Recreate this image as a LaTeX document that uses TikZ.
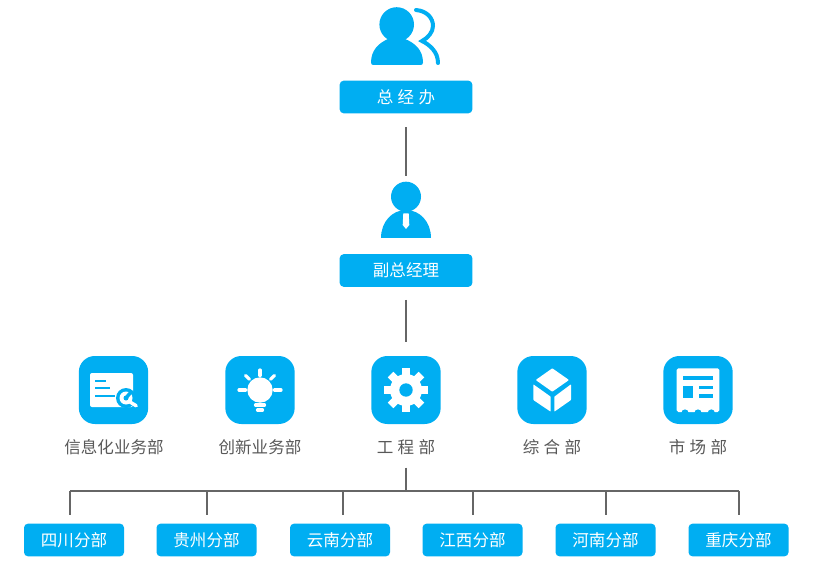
\documentclass[tikz,border=0pt]{standalone}
\usepackage{fontspec}
\setmainfont{Noto Sans CJK SC}
\definecolor{brand}{HTML}{00AEF2}
\definecolor{txt}{HTML}{595959}
\definecolor{ln}{HTML}{666666}
\newcommand{\gapsp}{\hspace{3.2pt}}
\tikzset{
  x=0.75pt,y=-0.75pt,
  btn/.style={fill=brand,rounded corners=3pt,minimum width=75pt,minimum height=24.5pt,inner sep=0pt,text=white,font=\fontsize{12.4}{14}\selectfont},
  bigbtn/.style={btn,minimum width=99.5pt},
  tile/.style={fill=brand,rounded corners=12pt,minimum width=52pt,minimum height=51pt,inner sep=0pt},
  lab/.style={text=txt,inner sep=0pt,font=\fontsize{12.4}{14}\selectfont},
  wire/.style={draw=ln,line width=1pt},
  ghost/.style={minimum width=42pt,minimum height=42pt,inner sep=0pt},
  ink/.style={fill=brand,draw=none},
  ray/.style={draw=white,line width=2.4pt,line cap=round},
  cut/.style={fill=brand,draw=none},
}
\begin{document}
\begin{tikzpicture}
\useasboundingbox (0,0) rectangle (813,570);
\fill[white] (0,0) rectangle (813,570);
% top person
\fill[ink] (396.7,24.5) circle[radius=17.3];
\fill[ink] (371,62.5) .. controls (371,50) and (379,43) .. (388,39) -- (405,39) .. controls (415,43) and (423,50) .. (423,62.5) .. controls (423,64.3) and (422,65) .. (420.5,65) -- (373.5,65) .. controls (372,65) and (371,64.3) .. (371,62.5) -- cycle;
\draw[brand,line width=3pt,line cap=round] (416,10) .. controls (427,11) and (433,18) .. (433,26) .. controls (433,32) and (428,38) .. (422,41) .. controls (430,45) and (438,52) .. (438,63);
\node[bigbtn] (gm) at (406,97) {总\gapsp 经\gapsp 办};
% second person
\node[ghost] (vpicon) at (406,210) {};
\fill[ink] (406,196.7) circle[radius=15];
\fill[ink] (381,238) .. controls (381,222) and (392,210) .. (406,210) .. controls (420,210) and (431,222) .. (431,238) -- cycle;
\fill[white] (403.3,213.3) -- (408.7,213.3) -- (409.3,225) -- (406,229) -- (402.7,225) -- cycle;
\node[bigbtn] (vp) at (406,270.5) {副总经理};
\draw[wire,shorten <=10.2pt,shorten >=4pt] (gm) -- (vpicon);
% tiles
\node[tile] (t1) at (113.5,390) {};
\node[tile] (t2) at (260,390) {};
\node[tile] (t3) at (406,390) {};
\node[tile] (t4) at (552,390) {};
\node[tile] (t5) at (698,390) {};
\draw[wire,shorten <=9.5pt,shorten >=10.5pt] (vp) -- (t3);
% icon 1
\fill[white,rounded corners=1.5pt] (90,373) rectangle (133,407);
\fill[cut] (95,380) rectangle (106,382);
\fill[cut] (95,387) rectangle (110,389);
\fill[cut] (95,395) rectangle (115,397);
\fill[cut] (126,398) circle[radius=10];
\draw[white,line width=2.6pt,line cap=round] (130,402) -- (136.2,405.8);
\fill[white] (126,398) circle[radius=6.5];
\draw[brand,line width=2.6pt] (126,398) -- (131,392);
\fill[cut] (126,398) circle[radius=2.5];
% icon 2
\fill[white] (260,390) circle[radius=12.7];
\draw[ray] (260,370) -- (260,375.5);
\draw[ray] (239,390) -- (245.5,390);
\draw[ray] (274.5,390) -- (281,390);
\draw[ray] (245.5,375.5) -- (249.5,379.3);
\draw[ray] (274.5,375.5) -- (270.5,379.3);
\draw[ray] (255.5,405) -- (264.5,405);
\draw[ray] (257.5,410) -- (262.5,410);
% icon 3
\fill[white] (406,390) circle[radius=16];
\foreach \a in {0,45,...,315}
  \draw[white,line width=6pt,rounded corners=1pt] (406,390) -- ++(\a:21.8);
\fill[cut] (406,390) circle[radius=6.7];
% icon 4
\fill[white,rounded corners=0.5pt] (552.3,368.3) -- (569,380) -- (552.3,391.7) -- (535.7,380) -- cycle;
\fill[white,rounded corners=0.5pt] (533.3,384.3) -- (550.7,396.7) -- (550.7,411.7) -- (533.3,400) -- cycle;
\fill[white,rounded corners=0.5pt] (554.3,396.7) -- (571,384.3) -- (571,400) -- (554.3,411.7) -- cycle;
% icon 5
\fill[white,rounded corners=1.2pt] (676.7,368.3) rectangle (719.3,412);
\foreach \cx in {685,698,711.3}
  \fill[cut] (\cx,413) circle[radius=3.6];
\fill[cut] (682.7,376) rectangle (713.3,380);
\fill[cut] (682.7,385.7) rectangle (693.3,397.7);
\fill[cut] (699.3,385.7) rectangle (713.3,389.3);
\fill[cut] (699.3,394) rectangle (713.3,397.7);
% labels
\node[lab] (l1) at (114,447) {信息化业务部};
\node[lab] (l2) at (260,447) {创新业务部};
\node[lab] (l3) at (406,447) {工\gapsp 程\gapsp 部};
\node[lab] (l4) at (552,447) {综\gapsp 合\gapsp 部};
\node[lab] (l5) at (698,447) {市\gapsp 场\gapsp 部};
% branches
\node[btn] (b1) at (74,540) {四川分部};
\node[btn] (b2) at (206.5,540) {贵州分部};
\node[btn] (b3) at (340,540) {云南分部};
\node[btn] (b4) at (472.5,540) {江西分部};
\node[btn] (b5) at (605.5,540) {河南分部};
\node[btn] (b6) at (738.5,540) {重庆分部};
\coordinate (hub) at (406,491);
\coordinate (floor) at (0,515);
\coordinate (d1) at (70,491);
\coordinate (d2) at (207,491);
\coordinate (d3) at (343,491);
\coordinate (d4) at (473,491);
\coordinate (d5) at (606,491);
\coordinate (d6) at (739,491);
\draw[wire,shorten <=9.5pt] (l3) -- (hub);
\draw[wire] (d1) -- (d6);
\foreach \i in {1,...,6}
  \draw[wire] (d\i) -- (d\i |- floor);
\end{tikzpicture}
\end{document}
